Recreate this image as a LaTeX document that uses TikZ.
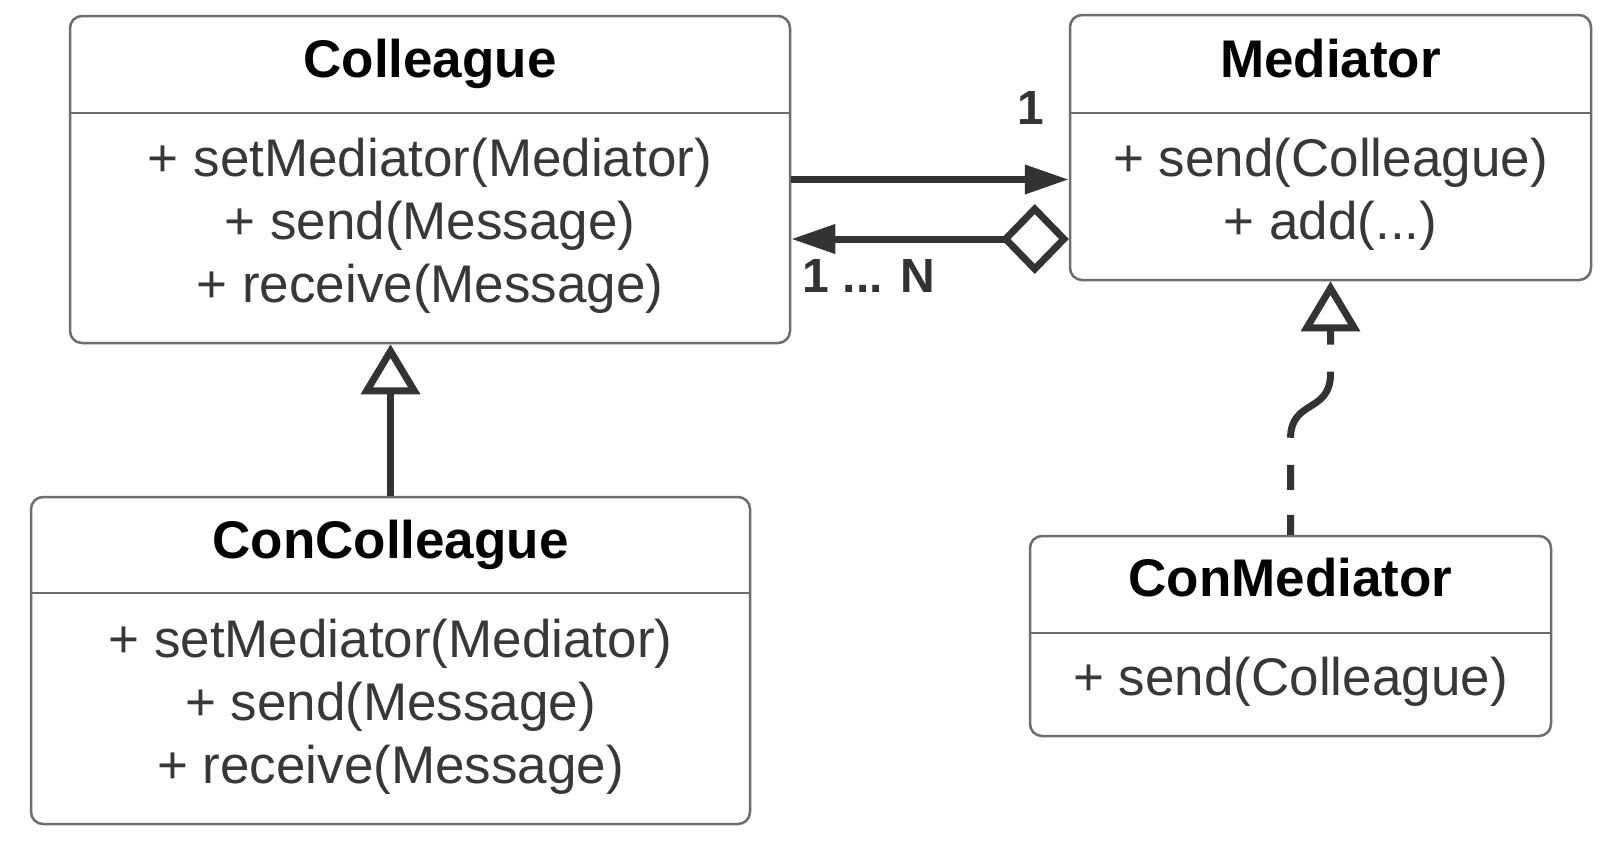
\documentclass[tikz,border=0pt]{standalone}
\usepackage{fontspec}
\setmainfont{Liberation Sans}
\usetikzlibrary{arrows.meta}
\definecolor{border}{HTML}{6E6E6E}
\definecolor{ink}{HTML}{333333}
\definecolor{txt}{HTML}{383838}
\tikzset{
  umlbox/.style={draw=border, line width=2.5pt, rounded corners=12pt, fill=white, inner sep=0pt},
  divider/.style={draw=border, line width=2.5pt},
  title/.style={anchor=base, inner sep=0pt, text=black, font=\fontsize{53}{64}\selectfont\bfseries},
  member/.style={anchor=base, inner sep=0pt, text=txt, font=\fontsize{53}{64}\selectfont},
  mult/.style={anchor=base, inner sep=0pt, text=ink, font=\fontsize{48}{58}\selectfont\bfseries},
  conn/.style={draw=ink, line width=7pt},
  filledtip/.style={-{Triangle[length=44pt,width=28pt]}},
  opentip/.style={-{Triangle[open,length=50pt,width=58pt]}},
}
\begin{document}
\begin{tikzpicture}[x=1pt,y=-1pt]
\fill[white] (0,0) rectangle (1612,854);
\useasboundingbox (0,0) rectangle (1612,854);

% boxes
\node[umlbox, minimum width=720pt, minimum height=327pt] (colleague) at (430,179.5) {};
\node[umlbox, minimum width=521pt, minimum height=265pt] (mediator) at (1330.5,147.5) {};
\node[umlbox, minimum width=719pt, minimum height=327pt] (concolleague) at (390.5,660.5) {};
\node[umlbox, minimum width=521pt, minimum height=200pt] (conmediator) at (1290.5,636) {};

% dividers
\draw[divider] (70,113) -- (790,113);
\draw[divider] (1070,113) -- (1591,113);
\draw[divider] (31,593) -- (750,593);
\draw[divider] (1030,633) -- (1551,633);

% Colleague texts
\node[title] (colT) at (430,77) {Colleague};
\node[member] (colM1) at (430,176) {+ setMediator(Mediator)};
\node[member] (colM2) at (430,239) {+ send(Message)};
\node[member] (colM3) at (430,302) {+ receive(Message)};

% Mediator texts
\node[title] (medT) at (1330.5,77) {Mediator};
\node[member] (medM1) at (1330.5,176) {+ send(Colleague)};
\node[member] (medM2) at (1330.5,239) {+ add(...)};

% ConColleague texts
\node[title] (ccT) at (390.5,558) {ConColleague};
\node[member] (ccM1) at (390.5,657) {+ setMediator(Mediator)};
\node[member] (ccM2) at (390.5,720) {+ send(Message)};
\node[member] (ccM3) at (390.5,783) {+ receive(Message)};

% ConMediator texts
\node[title] (cmT) at (1290.5,596) {ConMediator};
\node[member] (cmM1) at (1290.5,695) {+ send(Colleague)};

% association Colleague -> Mediator
\draw[conn, filledtip] (colleague.east) -- ([yshift=-32pt]mediator.west);
% aggregation Mediator <>-> Colleague
\draw[conn, {Diamond[open,length=68pt,width=70pt]}-{Triangle[length=44pt,width=28pt]}]
  ([yshift=-91.5pt]mediator.west) -- ([yshift=-59.5pt]colleague.east);

% multiplicities
\node[mult] (m1) at (1031,124) {1};
\node[mult] (mN) at (869,292) {1 ... N};

% generalization ConColleague -> Colleague
\draw[conn, opentip] (concolleague.north) -- (concolleague.north |- colleague.south);

% realization ConMediator -> Mediator
\draw[conn, opentip, dash pattern=on 20pt off 25pt on 25pt off 27pt on 82pt off 27pt on 80pt]
  (conmediator.north) -- ++(0,-96) .. controls +(0,-40) and +(0,40) .. ++(40,-65)
  -- (mediator.south);
\end{tikzpicture}
\end{document}
